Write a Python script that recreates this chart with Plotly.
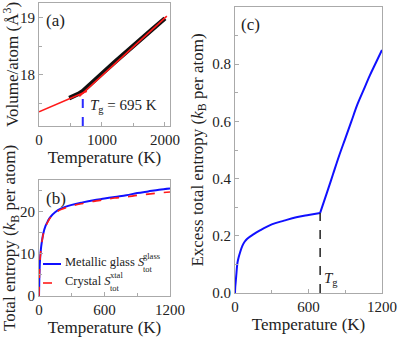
import plotly.graph_objects as go

# ---------- data ----------
# (a) volume per atom
md_T = [480, 550, 620, 695, 800, 900, 1000, 1200, 1400, 1600, 1800, 2000]
md_V = [17.59, 17.62, 17.66, 17.71, 17.81, 17.92, 18.02, 18.22, 18.42, 18.61, 18.80, 18.99]
glass_fit_T = [0, 760]
glass_fit_V = [17.35, 17.71]
liquid_fit_T = [640, 2030]
liquid_fit_V = [17.62, 19.03]
Tg = 695
Tg_V = 17.68

# (b) total entropy
T_b = [0, 2, 5, 10, 15, 20, 30, 40, 60, 80, 100, 150, 200, 300, 400, 500, 600, 695, 800, 900, 1000, 1100, 1200]
S_glass = [0, 3.0, 6.0, 8.8, 10.4, 11.7, 13.5, 14.9, 16.6, 17.7, 18.6, 19.9, 20.7, 21.6, 22.2, 22.7, 23.1, 23.5, 23.9, 24.4, 24.8, 25.2, 25.5]
S_xtal = [0, 2.98, 5.97, 8.74, 10.32, 11.6, 13.38, 14.76, 16.44, 17.52, 18.41, 19.7, 20.48, 21.36, 21.95, 22.44, 22.83, 23.22, 23.49, 23.86, 24.14, 24.44, 24.65]

# (c) excess entropy
T_c_low = [0, 2, 5, 10, 20, 30, 40, 60, 80, 100, 150, 200, 300, 400, 500, 600, 695]
S_exc_low = [0, 0.02, 0.035, 0.06, 0.105, 0.125, 0.14, 0.165, 0.18, 0.19, 0.205, 0.218, 0.24, 0.253, 0.265, 0.273, 0.28]
T_c_high = [695, 750, 800, 850, 900, 950, 1000, 1050, 1100, 1150, 1200]
S_exc_high = [0.28, 0.35, 0.415, 0.48, 0.54, 0.60, 0.66, 0.71, 0.76, 0.805, 0.85]

FONT = "'Liberation Serif', 'Times New Roman', serif"
W, H = 399, 338
BLUE = "#1010ff"
RED = "#ff1a1a"

def fx(px):
    return px / W

def fy(py):
    return 1 - py / H

fig = go.Figure()

# panel a
fig.add_trace(go.Scatter(x=md_T, y=md_V, mode="lines", line=dict(color="#111", width=4.5),
                         xaxis="x", yaxis="y", showlegend=False))
fig.add_trace(go.Scatter(x=glass_fit_T, y=glass_fit_V, mode="lines", line=dict(color=RED, width=1.6),
                         xaxis="x", yaxis="y", showlegend=False))
fig.add_trace(go.Scatter(x=liquid_fit_T, y=liquid_fit_V, mode="lines", line=dict(color=RED, width=1.6),
                         xaxis="x", yaxis="y", showlegend=False))
fig.add_trace(go.Scatter(x=[Tg, Tg], y=[17.1, Tg_V], mode="lines", line=dict(color="#2b2bff", width=2, dash="dash"),
                         xaxis="x", yaxis="y", showlegend=False))

# panel b
fig.add_trace(go.Scatter(x=T_b, y=S_glass, mode="lines", line=dict(color=BLUE, width=2, shape="spline"),
                         xaxis="x2", yaxis="y2", showlegend=False,
                         name="Metallic glass S_tot^glass"))
fig.add_trace(go.Scatter(x=T_b, y=S_xtal, mode="lines", line=dict(color=RED, width=1.6, dash="dash", shape="spline"),
                         xaxis="x2", yaxis="y2", showlegend=False,
                         name="Crystal S_tot^xtal"))

# panel c
fig.add_trace(go.Scatter(x=T_c_low, y=S_exc_low, mode="lines", line=dict(color=BLUE, width=2, shape="spline"),
                         xaxis="x3", yaxis="y3", showlegend=False))
fig.add_trace(go.Scatter(x=T_c_high, y=S_exc_high, mode="lines", line=dict(color=BLUE, width=2, shape="spline"),
                         xaxis="x3", yaxis="y3", showlegend=False))
fig.add_trace(go.Scatter(x=[Tg, Tg], y=[0, S_exc_low[-1]], mode="lines",
                         line=dict(color="#222", width=1.5, dash="dash"),
                         xaxis="x3", yaxis="y3", showlegend=False))

axcommon = dict(showline=True, mirror=True, linecolor="#aaaaaa", linewidth=1.2, automargin=False,
                ticks="inside", ticklen=4, tickcolor="#aaaaaa", showgrid=False, zeroline=False,
                tickfont=dict(family=FONT, size=15, color="#222"),
                title_font=dict(family=FONT, size=17, color="#222"))

def mn(vals):
    return dict(ticks="inside", ticklen=2.5, tickcolor="#aaaaaa", tickvals=vals, showgrid=False)

def txt(text, x, y, size, xanchor="left"):
    return dict(text=text, x=fx(x), y=fy(y), xref="paper", yref="paper", xanchor=xanchor,
                yanchor="middle", showarrow=False, font=dict(family=FONT, size=size, color="#222"))

annotations = [
    txt("(a)", 44, 21, 17),
    txt("(b)", 44, 198, 17),
    txt("(c)", 239, 24, 17),
    # manual legend for panel (b)
    txt("Metallic glass <i>S</i>", 63, 262, 12.5),
    txt("glass", 141, 256, 8.5),
    txt("tot", 141, 269, 8.5),
    txt("Crystal <i>S</i>", 63, 281, 12.5),
    txt("xtal", 108, 275, 8.5),
    txt("tot", 108, 288, 8.5),
    dict(text="<i>T</i><sub>g</sub> = 695 K", x=770, y=17.45, xref="x", yref="y", xanchor="left",
         yanchor="middle", showarrow=False, font=dict(family=FONT, size=15, color="#222")),
    dict(text="<i>T</i><sub>g</sub>", x=710, y=0.05, xref="x3", yref="y3", xanchor="left",
         yanchor="middle", showarrow=False, font=dict(family=FONT, size=15, color="#222")),
]

shapes = [
    dict(type="line", xref="paper", yref="paper", x0=fx(43), x1=fx(61), y0=fy(264), y1=fy(264),
         line=dict(color=BLUE, width=2)),
    dict(type="line", xref="paper", yref="paper", x0=fx(43), x1=fx(61), y0=fy(283), y1=fy(283),
         line=dict(color=RED, width=1.6, dash="dash")),
]

fig.update_layout(
    width=W, height=H, margin=dict(l=0, r=0, t=0, b=0),
    plot_bgcolor="white", paper_bgcolor="white",
    font=dict(family=FONT, color="#222"),
    showlegend=False,
    xaxis=dict(axcommon, domain=[fx(39), fx(170)], range=[0, 2080], tickvals=[0, 1000, 2000],
               minor=mn([500, 1500]),
               title=dict(text="Temperature (K)", standoff=2), anchor="y"),
    yaxis=dict(axcommon, domain=[fy(126), fy(3)], range=[17.1, 19.26], tickvals=[18, 19],
               minor=mn([17.5, 18.5]),
               title=dict(text="Volume/atom (Å<sup>3</sup>)", standoff=4), anchor="x"),
    xaxis2=dict(axcommon, domain=[fx(39), fx(170)], range=[0, 1200], tickvals=[0, 600, 1200],
                minor=mn([300, 900]),
                title=dict(text="Temperature (K)", standoff=2), anchor="y2"),
    yaxis2=dict(axcommon, domain=[fy(296), fy(180)], range=[0, 27.5], tickvals=[0, 10, 20],
                minor=mn([5, 15, 25]),
                title=dict(text="Total entropy (<i>k</i><sub>B</sub> per atom)", standoff=4), anchor="x2"),
    xaxis3=dict(axcommon, domain=[fx(235), fx(382)], range=[0, 1200], tickvals=[0, 600, 1200],
                minor=mn([300, 900]),
                title=dict(text="Temperature (K)", standoff=2), anchor="y3"),
    yaxis3=dict(axcommon, domain=[fy(293), fy(7)], range=[0, 1.0], tickvals=[0, 0.2, 0.4, 0.6, 0.8, 1.0],
                tickformat=".1f",
                minor=mn([0.1, 0.3, 0.5, 0.7, 0.9]),
                title=dict(text="Excess total entropy (<i>k</i><sub>B</sub> per atom)", standoff=4), anchor="x3"),
    annotations=annotations,
    shapes=shapes,
)

fig.write_html("out.html", config={"displayModeBar": False},
               post_script="document.body.style.margin='0';document.body.style.padding='0';")
